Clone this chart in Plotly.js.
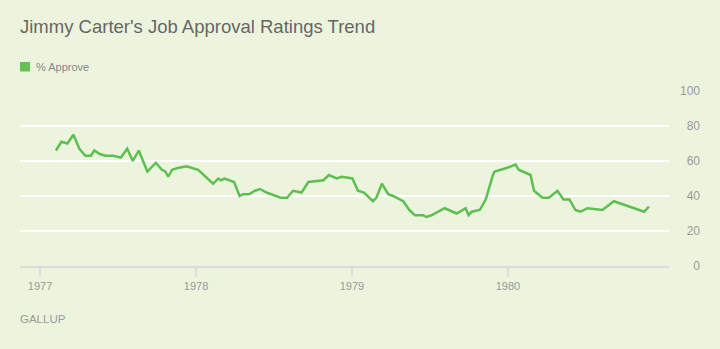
<!DOCTYPE html>
<html>
<head>
<meta charset="utf-8">
<script src="https://cdn.plot.ly/plotly-3.0.1.min.js"></script>
<style>html,body{margin:0;padding:0;background:#edf4de;}#chart{width:720px;height:349px;}</style>
</head>
<body>
<div id="chart"></div>
<script>
var pollDates = [
 "1977-02-07","1977-02-20","1977-03-06","1977-03-20","1977-04-03","1977-04-17","1977-04-30","1977-05-08",
 "1977-05-21","1977-06-03","1977-06-21","1977-07-09","1977-07-24","1977-08-06","1977-08-20","1977-09-09",
 "1977-09-29","1977-10-13","1977-10-21","1977-10-28","1977-11-06","1977-11-19","1977-12-10",
 "1978-01-06","1978-02-10","1978-02-22","1978-02-28","1978-03-09","1978-03-31","1978-04-13","1978-04-21",
 "1978-05-05","1978-05-19","1978-05-31","1978-06-15","1978-07-18","1978-08-02","1978-08-16","1978-09-05",
 "1978-09-21","1978-10-26","1978-11-08","1978-11-26","1978-12-08",
 "1979-01-02","1979-01-15","1979-01-29","1979-02-19","1979-02-27","1979-03-12","1979-03-27","1979-04-07",
 "1979-05-01","1979-05-15","1979-05-28","1979-06-16","1979-06-24","1979-07-06","1979-08-06","1979-09-03",
 "1979-09-24","1979-10-01","1979-10-08","1979-10-27","1979-11-10","1979-11-20","1979-11-27","1979-12-01",
 "1979-12-29",
 "1980-01-19","1980-01-26","1980-02-23","1980-03-02","1980-03-22","1980-04-06","1980-04-26","1980-05-10",
 "1980-05-24","1980-06-07","1980-06-19","1980-07-05","1980-08-09","1980-09-05","1980-11-15","1980-11-26"
];
var approve = [
 66,71,70,75,67,63,63,66,
 64,63,63,62,67,60,66,54,
 59,55,54,51,55,56,57,
 55,47,50,49,50,48,40,41,
 41,43,44,42,39,39,43,42,
 48,49,52,50,51,
 50,43,42,37,39,47,41,40,
 37,32,29,29,28,29,33,30,
 33,29,31,32,38,47,52,54,
 56,
 58,55,52,43,39,39,43,38,
 38,32,31,33,32,37,31,34
];
var seriesName = "% Approve";
var titleText = "Jimmy Carter's Job Approval Ratings Trend";
var yTicks = [0,20,40,60,80,100];
var xTicks = ["1977-01-01","1978-01-01","1979-01-01","1980-01-01"];
var xTickLabels = ["1977","1978","1979","1980"];
var sourceText = "GALLUP";

var lineColor = "#5dbf4f";
var font = "Liberation Sans, Arial, sans-serif";

// plot area in pixels: left 20, top 91, height 175; paper (margins excluded) width 668
var PW = 668, PH = 175, TOP = 91;
function px(x) { return (x - 20) / PW; }
function py(y) { return (TOP + PH - y) / PH; }

var traces = [
 {x: pollDates, y: approve, type: "scatter", mode: "lines", name: seriesName,
  line: {color: lineColor, width: 2.5}, showlegend: false, hoverinfo: "x+y"}
];

var layout = {
 width: 720, height: 349,
 paper_bgcolor: "#edf4de", plot_bgcolor: "#edf4de",
 margin: {l: 20, r: 32, t: 91, b: 83, pad: 0},
 font: {family: font, color: "#999999", size: 11},
 title: {text: titleText, x: 20/720, xanchor: "left", xref: "container",
   y: 1 - 27/349, yanchor: "middle", yref: "container",
   font: {family: font, size: 18.5, color: "#666666"}},
 showlegend: false,
 xaxis: {type: "date", domain: [0, 649/PW],
   range: ["1976-11-15", "1981-01-12"],
   tickvals: xTicks, ticktext: xTickLabels,
   ticks: "outside", ticklen: 9, tickwidth: 1.5, tickcolor: "#dcdcdc",
   showline: true, linecolor: "#dcdcdc", linewidth: 2,
   showgrid: false, zeroline: false,
   tickfont: {size: 11, color: "#999999"}},
 yaxis: {range: [0, 100], tickvals: yTicks, anchor: "free", position: 1, side: "left",
   showgrid: true, gridcolor: "#ffffff", gridwidth: 2,
   zeroline: false, showline: false, ticks: "", ticklabelstandoff: -12,
   tickfont: {size: 12, color: "#999999"}},
 shapes: [
  {type: "rect", xref: "paper", yref: "paper", x0: px(20), x1: px(30), y0: py(71.5), y1: py(62),
   fillcolor: "#62c353", line: {width: 0}}
 ],
 annotations: [
  {text: seriesName, xref: "paper", x: px(34), xanchor: "left", yref: "paper", y: py(67),
   yanchor: "middle", showarrow: false, font: {size: 11, color: "#888888", family: font}},
  {text: sourceText, xref: "paper", x: px(18), xanchor: "left", yref: "paper", y: py(319),
   yanchor: "middle", showarrow: false, font: {size: 11.5, color: "#999999", family: font}}
 ]
};

Plotly.newPlot("chart", traces, layout, {displayModeBar: false, staticPlot: true});
</script>
</body>
</html>
